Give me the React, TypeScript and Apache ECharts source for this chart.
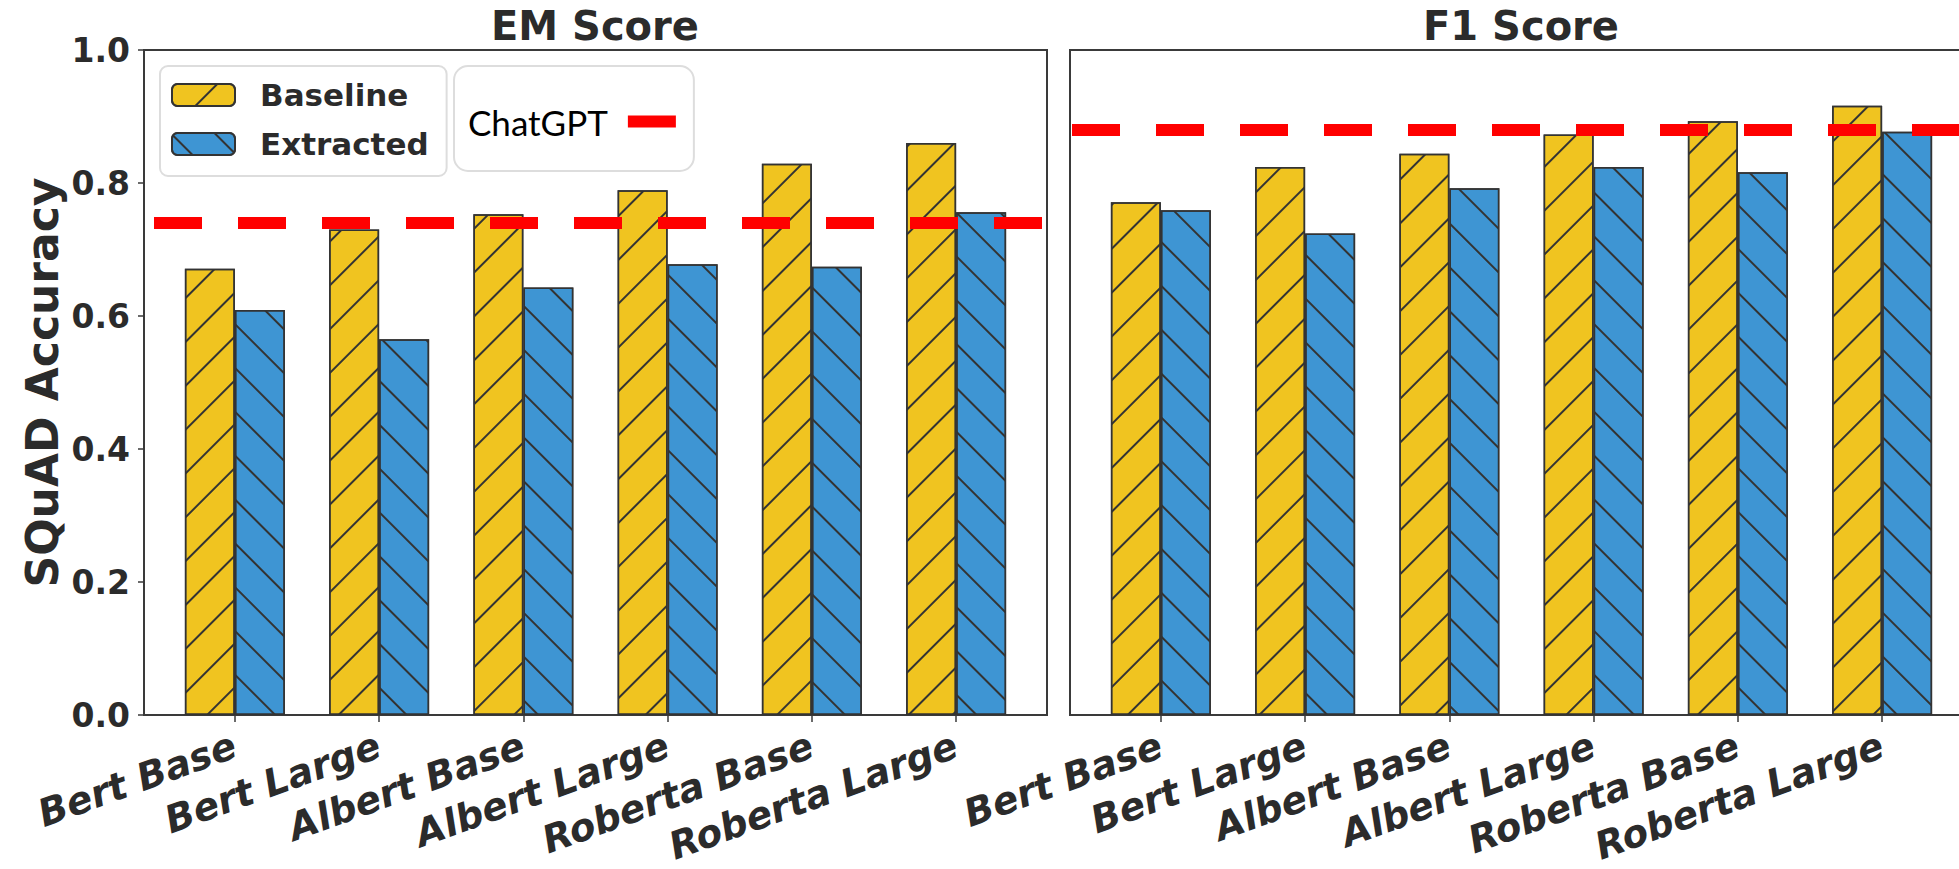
import React, { useEffect, useRef } from "react";
import * as echarts from "echarts";

const categories = ["Bert Base", "Bert Large", "Albert Base", "Albert Large", "Roberta Base", "Roberta Large"];
const emBaseline = [0.671, 0.73, 0.753, 0.789, 0.829, 0.86];
const emExtracted = [0.609, 0.565, 0.643, 0.678, 0.674, 0.756];
const f1Baseline = [0.771, 0.824, 0.844, 0.873, 0.893, 0.916];
const f1Extracted = [0.759, 0.724, 0.792, 0.824, 0.816, 0.877];
const chatgptEM = 0.74;
const chatgptF1 = 0.88;
const panelTitles = ["EM Score", "F1 Score"];
const yTickLabels = ["0.0", "0.2", "0.4", "0.6", "0.8", "1.0"];

const YELLOW = "#F0C420";
const BLUE = "#3E95D3";
const FRAME = "#3a3a3a";
const TEXT = "#2b2b2b";
const FONT = "DejaVu Sans";

export default function App() {
  const ref = useRef<HTMLDivElement>(null);
  useEffect(() => {
    if (!ref.current) return;
    const chart = echarts.init(ref.current, null, { renderer: "svg" });
    const idx = categories.map((_, i) => i);
    const hatch = (rot: number) => ({
      symbol: "rect",
      symbolSize: 1,
      color: "#333",
      dashArrayX: [1, 0],
      dashArrayY: [1.5, 28.5],
      rotation: rot,
    });
    const panels = [
      { base: emBaseline, ext: emExtracted, gpt: chatgptEM, left: 144, dashOffset: 74 },
      { base: f1Baseline, ext: f1Extracted, gpt: chatgptF1, left: 1070, dashOffset: 82 },
    ];
    const grid = panels.map((p) => ({
      left: p.left,
      top: 50,
      width: 903,
      height: 665,
      outerBoundsMode: "none",
      containLabel: false,
      show: true,
      borderColor: FRAME,
      borderWidth: 2,
      backgroundColor: "transparent",
    }));
    const xAxis = panels.map((_, gi) => ({
      type: "value",
      gridIndex: gi,
      min: -0.63,
      max: 5.63,
      splitLine: { show: false },
      axisLine: { show: false, onZero: false },
      axisTick: { show: true, length: 7, customValues: idx, lineStyle: { color: FRAME, width: 1.5 } },
      axisLabel: {
        customValues: idx,
        formatter: (v: number) => categories[Math.round(v)],
        rotate: 20,
        fontSize: 38,
        fontWeight: "bold",
        fontStyle: "italic",
        fontFamily: FONT,
        color: TEXT,
        margin: 29,
      },
    }));
    const yAxis = panels.map((_, gi) => ({
      type: "value",
      gridIndex: gi,
      min: 0,
      max: 1,
      interval: 0.2,
      show: gi === 0,
      splitLine: { show: false },
      axisLine: { show: false, onZero: false },
      axisTick: { show: gi === 0, length: 6, lineStyle: { color: FRAME, width: 1.5 } },
      axisLabel: {
        show: gi === 0,
        formatter: (v: number) => yTickLabels[Math.round(v * 5)],
        fontSize: 33,
        fontWeight: "bold",
        fontFamily: FONT,
        color: TEXT,
        margin: 14,
      },
      name: gi === 0 ? "SQuAD Accuracy" : undefined,
      nameLocation: "middle",
      nameGap: 80,
      nameTextStyle: { fontSize: 44, fontWeight: "bold", fontFamily: FONT, color: TEXT },
    }));
    const series: any[] = [];
    panels.forEach((p, gi) => {
      series.push({
        type: "bar",
        name: "Baseline",
        xAxisIndex: gi,
        yAxisIndex: gi,
        barWidth: 50,
        barGap: "0%",
        data: p.base.map((v, i) => [i, v]),
        itemStyle: { color: YELLOW, borderColor: "#333", borderWidth: 1.5, decal: hatch(-Math.PI / 4) },
      });
      series.push({
        type: "bar",
        name: "Extracted",
        xAxisIndex: gi,
        yAxisIndex: gi,
        barWidth: 50,
        barGap: "0%",
        data: p.ext.map((v, i) => [i, v]),
        itemStyle: { color: BLUE, borderColor: "#333", borderWidth: 1.5, decal: hatch(Math.PI / 4) },
      });
      series.push({
        type: "scatter",
        name: "ChatGPT",
        xAxisIndex: gi,
        yAxisIndex: gi,
        data: [],
        z: 5,
        itemStyle: { color: "#ff0000", opacity: 1 },
        markLine: {
          silent: true,
          symbol: "none",
          label: { show: false },
          z: 5,
          data: [{ yAxis: p.gpt }],
          lineStyle: { color: "#ff0000", opacity: 1, width: 12, type: [48, 36], dashOffset: p.dashOffset, cap: "butt" },
        },
      });
    });
    chart.setOption({
      animation: false,
      title: panelTitles.map((t, i) => ({
        text: t,
        left: i === 0 ? 595 : 1521,
        top: 6,
        padding: 0,
        textAlign: "center",
        textStyle: { fontSize: 40, fontWeight: "bold", fontFamily: FONT, color: TEXT },
      })),
      legend: [
        {
          data: ["Baseline", "Extracted"],
          orient: "vertical",
          left: 160,
          top: 66,
          padding: [13, 18, 16, 11],
          itemGap: 17,
          itemWidth: 63,
          itemHeight: 22,
          backgroundColor: "#fff",
          borderColor: "#dddddd",
          borderWidth: 2,
          borderRadius: 8,
          selectedMode: false,
          textStyle: { fontSize: 31, fontWeight: "bold", fontFamily: FONT, color: TEXT, padding: [0, 0, 0, 20], lineHeight: 32 },
        },
        {
          data: [{ name: "ChatGPT", icon: "rect", itemStyle: { color: "#ff0000", opacity: 1 } }],
          align: "right",
          left: 454,
          top: 66,
          padding: [38, 18, 32, 14],
          itemWidth: 48,
          itemHeight: 12,
          backgroundColor: "#fff",
          borderColor: "#dddddd",
          borderWidth: 2,
          borderRadius: 14,
          selectedMode: false,
          textStyle: { fontSize: 35, fontFamily: "Lato", color: "#000", padding: [0, 15, 0, 0] },
        },
      ],
      grid,
      xAxis,
      yAxis,
      series,
    });
    return () => chart.dispose();
  }, []);
  return (
    <div style={{ position: "fixed", left: 0, top: 0, width: 1959, height: 869, overflow: "hidden", background: "#fff" }}>
      <div ref={ref} style={{ width: 1980, height: 869 }} />
    </div>
  );
}
